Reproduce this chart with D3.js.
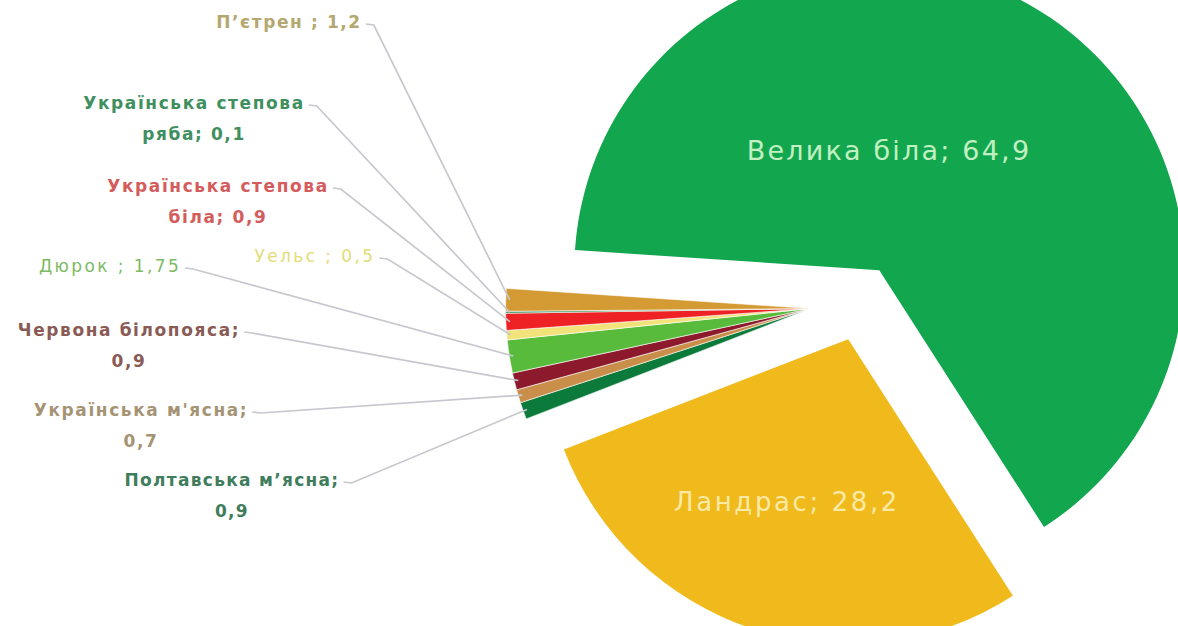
<!DOCTYPE html>
<html>
<head>
<meta charset="utf-8">
<script src="https://cdn.jsdelivr.net/npm/d3@7"></script>
<style>
  html, body { margin: 0; padding: 0; background: #ffffff; }
  svg { display: block; }
</style>
</head>
<body>
<svg id="chart" width="1178" height="626"></svg>
<script>
// Породна структура свиней, %
const breeds = [
  "Велика біла", "Ландрас", "Полтавська м’ясна", "Українська м'ясна",
  "Червона білопояса", "Дюрок", "Уельс", "Українська степова біла",
  "Українська степова ряба", "П’єтрен"
];
const shares = [64.9, 28.2, 0.9, 0.7, 0.9, 1.75, 0.5, 0.9, 0.1, 1.2];
const shareLabels = ["64,9", "28,2", "0,9", "0,7", "0,9", "1,75", "0,5", "0,9", "0,1", "1,2"];
const sliceColors = [
  "#12a64f", "#f0b91c", "#0b7a3b", "#c98f4a", "#8c1a2c",
  "#58bb3c", "#f1e27a", "#ee2224", "#2f8f55", "#d49b35"
];
const labelColors = [
  "#c2f0c2", "#fbeaa6", "#3f7d5c", "#a59474", "#8a5b55",
  "#7cba64", "#e4dc78", "#d45c5c", "#3f8f5f", "#b4a870"
];

const svg = d3.select("#chart");
const cx = 860, cy = 303, R = 305;
const toRad = d => d * Math.PI / 180;

const pie = d3.pie().sort(null).value(d => d.v)
  .startAngle(toRad(-86.2)).endAngle(toRad(273.8));
const data = breeds.map((name, i) => ({ name, v: shares[i], lab: shareLabels[i], i }));
const arcs = pie(data);

const arc = d3.arc().innerRadius(0).outerRadius(R);

// small slices are pulled out together along the bisector of their group
const smallGroup = arcs.slice(2);
const groupMid = (smallGroup[0].startAngle + smallGroup[smallGroup.length - 1].endAngle) / 2;
function offsetOf(a) {
  if (a.index < 2) {
    const m = (a.startAngle + a.endAngle) / 2;
    return [38 * Math.sin(m), -38 * Math.cos(m)];
  }
  return [50 * Math.sin(groupMid), -50 * Math.cos(groupMid) - 2];
}

svg.append("g").selectAll("path.slice")
  .data(arcs)
  .join("path")
  .attr("class", "slice")
  .attr("d", arc)
  .attr("fill", d => sliceColors[d.index])
  .attr("stroke", "#ffffff")
  .attr("stroke-width", d => d.index < 2 ? 0 : 0.6)
  .attr("transform", d => {
    const [ox, oy] = offsetOf(d);
    return `translate(${cx + ox},${cy + oy})`;
  });

// labels inside the two large slices
const inner = [
  { i: 0, x: 889, y: 160, size: 27, ls: 2.2 },
  { i: 1, x: 787, y: 511, size: 26, ls: 2.6 }
];
inner.forEach(t => {
  svg.append("text")
    .attr("x", t.x).attr("y", t.y)
    .attr("text-anchor", "middle")
    .attr("font-family", "'DejaVu Sans', sans-serif")
    .attr("font-size", t.size)
    .attr("letter-spacing", t.ls)
    .attr("fill", labelColors[t.i])
    .text(`${breeds[t.i]}; ${shareLabels[t.i]}`);
});

// outside labels for the small slices, with leader lines
const outside = [
  { i: 9, lines: ["П’єтрен ; 1,2"], x: 289, y: 28, w: 700 },
  { i: 8, lines: ["Українська степова", "ряба; 0,1"], x: 194, y: 109, w: 700 },
  { i: 7, lines: ["Українська степова", "біла; 0,9"], x: 218, y: 192, w: 700 },
  { i: 6, lines: ["Уельс ; 0,5"], x: 315, y: 262, w: 400 },
  { i: 5, lines: ["Дюрок ; 1,75"], x: 110, y: 272, w: 400 },
  { i: 4, lines: ["Червона білопояса;", "0,9"], x: 129, y: 336, w: 700 },
  { i: 3, lines: ["Українська м'ясна;", "0,7"], x: 141, y: 416, w: 700 },
  { i: 2, lines: ["Полтавська м’ясна;", "0,9"], x: 232, y: 486, w: 700 }
];

const leaders = svg.append("g")
  .attr("fill", "none")
  .attr("stroke", "#c6c8ce")
  .attr("stroke-width", 1.7);

outside.forEach(o => {
  const regular = o.w < 500;
  const t = svg.append("text")
    .attr("text-anchor", "middle")
    .attr("font-family", "'DejaVu Sans', sans-serif")
    .attr("font-size", 17)
    .attr("font-weight", o.w)
    .attr("letter-spacing", regular ? 2.4 : (o.i === 2 ? 1.3 : 1.6))
    .attr("fill", labelColors[o.i]);
  o.lines.forEach((ln, k) => {
    t.append("tspan").attr("x", o.x).attr("y", o.y + k * 31).text(ln);
  });

  // leader starts just after the end of the first text line
  const first = t.select("tspan").node();
  const len = first.getComputedTextLength();
  const ax = o.x + len / 2 + 4, ay = o.y - 4;

  const a = arcs[o.i];
  const [ox, oy] = offsetOf(a);
  const m = (a.startAngle + a.endAngle) / 2;
  const ex = cx + ox + (R - 4) * Math.sin(m);
  const ey = cy + oy - (R - 4) * Math.cos(m);
  leaders.append("path")
    .attr("d", d3.line()([[ax, ay], [ax + 8, ay + 1], [ex, ey]]));
});
</script>
</body>
</html>
